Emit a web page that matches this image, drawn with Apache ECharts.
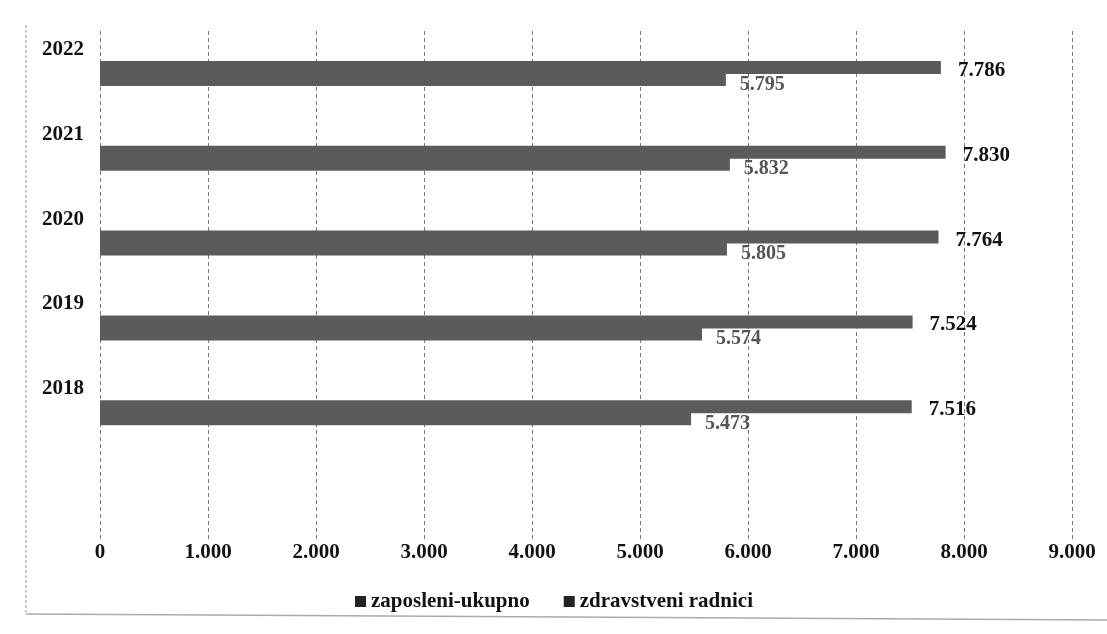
<!DOCTYPE html>
<html>
<head>
<meta charset="utf-8">
<script src="https://cdn.jsdelivr.net/npm/echarts@6/dist/echarts.min.js"></script>
<style>
html,body{margin:0;padding:0;background:#fff;}
#c{width:1107px;height:634px;}
</style>
</head>
<body>
<div id="c"></div>
<script>
const years = ['2018', '2019', '2020', '2021', '2022'];
const zaposleniUkupno = [7516, 7524, 7764, 7830, 7786];
const zdravstveniRadnici = [5473, 5574, 5805, 5832, 5795];
const legendNames = ['zaposleni-ukupno', 'zdravstveni radnici'];

const FONT = "'Liberation Serif', 'Times New Roman', serif";
function fmt(v) { return v === 0 ? '0' : (v / 1000).toFixed(3); }

const chart = echarts.init(document.getElementById('c'));
chart.setOption({
  backgroundColor: '#fff',
  animation: false,
  grid: { left: 100, right: 35, top: 31, bottom: 94 },
  legend: {
    data: legendNames,
    top: 586, left: 350,
    itemWidth: 11, itemHeight: 11, itemGap: 34,
    icon: 'rect',
    itemStyle: { color: '#222', borderWidth: 0 },
    textStyle: { fontFamily: FONT, fontWeight: 'bold', fontSize: 21, color: '#111' }
  },
  xAxis: {
    type: 'value', min: 0, max: 9000, interval: 1000,
    axisLine: { show: false }, axisTick: { show: false },
    splitLine: { show: true, lineStyle: { color: '#777', type: [4, 3], width: 1 } },
    axisLabel: { margin: 2, fontFamily: FONT, fontWeight: 'bold', fontSize: 21, color: '#111', formatter: fmt }
  },
  yAxis: {
    type: 'category',
    data: [''].concat(years),
    axisLine: { show: false }, axisTick: { show: false },
    axisLabel: {
      interval: 0, hideOverlap: false, showMaxLabel: true,
      margin: 16, fontFamily: FONT, fontWeight: 'bold', fontSize: 21, color: '#111',
      lineHeight: 48,
      formatter: v => v ? v + '\n ' : ''
    }
  },
  series: [
    {
      name: legendNames[0], type: 'bar',
      data: [null].concat(zaposleniUkupno),
      barWidth: 13, barGap: '-8%',
      itemStyle: { color: '#5b5b5b' },
      label: { show: true, position: 'right', distance: 17, offset: [0, 3], fontFamily: FONT, fontWeight: 'bold', fontSize: 21, color: '#111', formatter: p => fmt(p.value) }
    },
    {
      name: legendNames[1], type: 'bar',
      data: [null].concat(zdravstveniRadnici),
      barWidth: 13, barGap: '-8%',
      itemStyle: { color: '#5b5b5b' },
      label: { show: true, position: 'right', distance: 14, offset: [0, 5], fontFamily: FONT, fontWeight: 'bold', fontSize: 20, color: '#555', formatter: p => fmt(p.value) }
    }
  ],
  graphic: [
    { type: 'line', shape: { x1: 26, y1: 25, x2: 26, y2: 612 }, style: { stroke: '#999', lineWidth: 1, lineDash: [3, 2] } },
    { type: 'line', shape: { x1: 26, y1: 614, x2: 1107, y2: 620 }, style: { stroke: '#aaa', lineWidth: 1.5 } }
  ]
});
</script>
</body>
</html>
